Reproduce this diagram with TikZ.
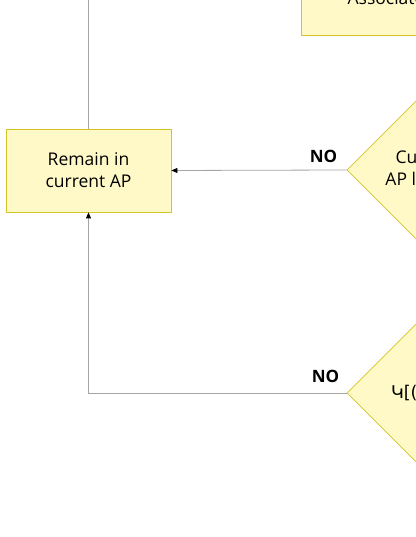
\documentclass[tikz,border=0pt]{standalone}
\usepackage{fontspec}
\setmainfont{Open Sans}
\newfontfamily\armfont{DejaVu Sans}
\usepackage{tikz}
\usetikzlibrary{
    arrows.meta,
    positioning,
    shapes.geometric,
    calc
}
\definecolor{boxfill}{RGB}{255,249,200}
\definecolor{boxline}{RGB}{212,196,40}
\definecolor{connline}{RGB}{165,165,165}

\begin{document}
\begin{tikzpicture}[
        x=1pt, y=1pt,
        stepbox/.style={draw=boxline, fill=boxfill, line width=0.8pt, align=center,
            font=\fontsize{17.5}{22}\selectfont},
        decision/.style={diamond, aspect=1, draw=boxline, fill=boxfill, line width=0.8pt,
            inner sep=0pt, minimum size=186pt, align=center,
            font=\fontsize{17.5}{22}\selectfont},
        conn/.style={draw=connline, line width=0.8pt},
        arrowconn/.style={conn, -{Triangle[length=6pt, width=5pt, color=black]}},
        nolabel/.style={font=\fontsize{17}{18}\bfseries, inner sep=0pt},
    ]
        \useasboundingbox (0,0) rectangle (415,537);

        % Boxes
        \node[stepbox, minimum width=165pt, minimum height=83pt] (remain) at (88.5,366.5)
            {Remain in\\current AP};
        \node[stepbox, minimum width=170pt, minimum height=74pt] (assoc) at (386,539)
            {Associate};

        % Decisions
        \node[decision] (load) at (440,367) {Current AP\\AP load high?};
        \node[decision, text width=98pt, align=left] (rssi) at (440,144) {\armfont Կ[(};

        % Connectors
        \coordinate (up) at (88.5,537);
        \draw[conn] (remain.north) -- (up);
        \draw[arrowconn] (load.west)
            node[nolabel, anchor=south east, xshift=-9pt, yshift=7pt] {NO} -- (remain.east);
        \draw[arrowconn] (rssi.west)
            node[nolabel, anchor=south east, xshift=-7pt, yshift=10pt] {NO} -| (remain.south);
    \end{tikzpicture}
\end{document}
